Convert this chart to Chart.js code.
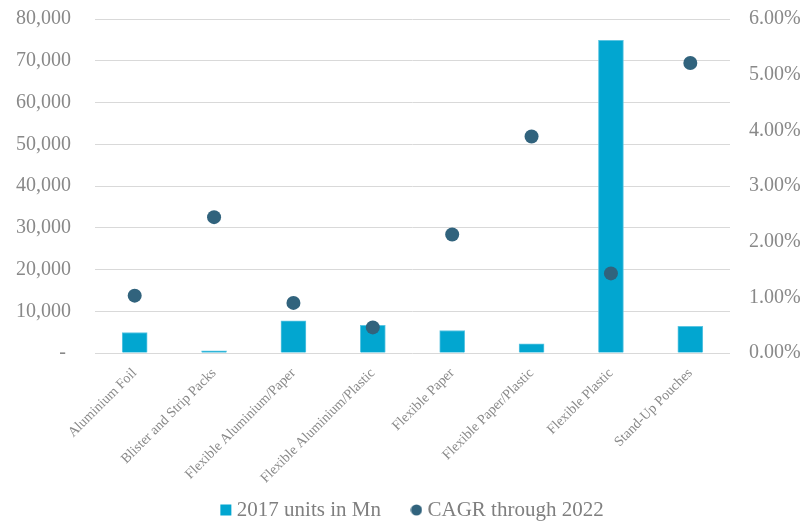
<!DOCTYPE html>
<html>
<head>
<meta charset="utf-8">
<script src="https://cdn.jsdelivr.net/npm/chart.js@4/dist/chart.umd.min.js"></script>
<style>
  html, body { margin: 0; padding: 0; background: #ffffff; }
  #wrap { width: 803px; height: 524px; position: relative; }
</style>
</head>
<body>
<div id="wrap"><canvas id="c"></canvas></div>
<script>
const categories = [
  "Aluminium Foil",
  "Blister and Strip Packs",
  "Flexible Aluminium/Paper",
  "Flexible Aluminium/Plastic",
  "Flexible Paper",
  "Flexible Paper/Plastic",
  "Flexible Plastic",
  "Stand-Up Pouches"
];
const units2017 = [4900, 500, 7700, 6600, 5400, 2200, 74900, 6400];
const cagr2022 = [1.03, 2.44, 0.90, 0.46, 2.13, 3.89, 1.43, 5.21];
const leftTicks = [0, 10000, 20000, 30000, 40000, 50000, 60000, 70000, 80000];
const rightTicks = [0, 1, 2, 3, 4, 5, 6];
const seriesNames = ["2017 units in Mn", "CAGR through 2022"];

const FONT = "'Liberation Serif', 'DejaVu Serif', serif";
const GREY = "#898989";
const BAR_COLOR = "#02a6d0";
const DOT_COLOR = "#31637d";
const LEGEND_FONT = 21;
const LEGEND_GAP = 35;

// small circle marker for the legend entry of the CAGR series
const legendDot = document.createElement("canvas");
legendDot.width = 12; legendDot.height = 12;
(function () {
  const g = legendDot.getContext("2d");
  g.fillStyle = DOT_COLOR;
  g.beginPath(); g.arc(6, 6, 5.6, 0, Math.PI * 2); g.fill();
})();

// place the bottom legend where the reference has it
const legendNudge = {
  id: "legendNudge",
  afterLayout(chart) {
    const lg = chart.legend;
    if (!lg) return;
    const dy = (510 - LEGEND_GAP - LEGEND_FONT / 2) - lg.top;
    lg.top += dy; lg.bottom += dy;
    lg.left += 13; lg.right += 13;
  }
};

const fixPad = (w) => (s) => { s.width = w; s.paddingTop = 0; s.paddingBottom = 0; };

new Chart(document.getElementById("c"), {
  plugins: [legendNudge],
  data: {
    labels: categories,
    datasets: [
      {
        type: "line",
        label: seriesNames[1],
        data: cagr2022,
        yAxisID: "y1",
        showLine: false,
        pointRadius: 7,
        pointHoverRadius: 7,
        pointBackgroundColor: DOT_COLOR,
        pointBorderWidth: 0,
        backgroundColor: DOT_COLOR,
        borderColor: DOT_COLOR,
        pointStyle: "circle",
        order: 0
      },
      {
        type: "bar",
        label: seriesNames[0],
        data: units2017,
        yAxisID: "y",
        backgroundColor: BAR_COLOR,
        borderColor: "#5cc5e2",
        borderWidth: 1,
        barThickness: 25,
        pointStyle: "rect",
        order: 1
      }
    ]
  },
  options: {
    responsive: true,
    maintainAspectRatio: false,
    animation: false,
    layout: { padding: { top: 19, left: 0, right: 0, bottom: -27 } },
    plugins: {
      tooltip: { enabled: false },
      legend: {
        position: "bottom",
        reverse: true,
        labels: {
          usePointStyle: true,
          boxWidth: 1,
          boxHeight: 11,
          padding: LEGEND_GAP,
          color: "#7f7f7f",
          font: { family: FONT, size: LEGEND_FONT },
          generateLabels: (chart) => {
            const items = Chart.defaults.plugins.legend.labels.generateLabels(chart);
            items.forEach((it) => {
              if (it.datasetIndex === 0) { it.pointStyle = legendDot; }
              else { it.pointStyle = "rect"; it.fillStyle = BAR_COLOR; it.strokeStyle = BAR_COLOR; it.lineWidth = 0; }
            });
            return items;
          }
        }
      }
    },
    scales: {
      x: {
        grid: { display: false },
        border: { display: false },
        ticks: {
          autoSkip: false,
          maxRotation: 45,
          minRotation: 45,
          padding: 4,
          color: GREY,
          font: { family: FONT, size: 14 }
        },
        afterFit: (s) => { s.height = 132; }
      },
      y: {
        position: "left",
        min: 0,
        max: 80000,
        afterBuildTicks: (s) => { s.ticks = leftTicks.map(v => ({ value: v })); },
        grid: { color: "#d9d9d9", lineWidth: 1, drawTicks: false },
        border: { display: false },
        ticks: {
          padding: 24,
          color: GREY,
          font: { family: FONT, size: 20 },
          callback: (v) => v === 0 ? "- " : Number(v).toLocaleString("en-US")
        },
        afterFit: fixPad(95)
      },
      y1: {
        position: "right",
        min: 0,
        max: 6,
        afterBuildTicks: (s) => { s.ticks = rightTicks.map(v => ({ value: v })); },
        grid: { display: false, drawTicks: false },
        border: { display: false },
        ticks: {
          padding: 19,
          color: GREY,
          font: { family: FONT, size: 20 },
          callback: (v) => Number(v).toFixed(2) + "%"
        },
        afterFit: fixPad(73)
      }
    }
  }
});
</script>
</body>
</html>
